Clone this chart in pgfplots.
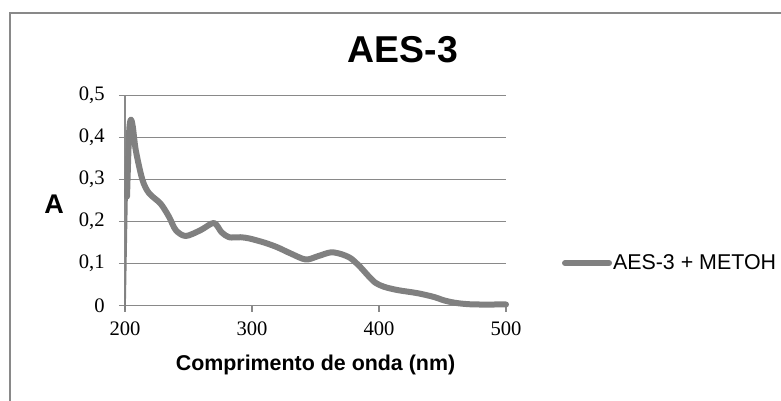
\documentclass[border=0pt]{standalone}
\usepackage{fontspec}
\setmainfont{Liberation Serif}
\newfontfamily\arial{Liberation Sans}
\usepackage{pgfplots}
\pgfplotsset{compat=1.18}
\definecolor{curve}{HTML}{808080}
\definecolor{gridc}{HTML}{898989}
\begin{document}
\begin{tikzpicture}
\useasboundingbox (-62.5pt,-47.65pt) rectangle (328pt,152.85pt);
\draw[gridc, line width=1pt] (-57.25pt,-48pt) -- (-57.25pt,146.35pt) -- (329pt,146.35pt);
\begin{axis}[
  at={(0pt,0pt)}, anchor=origin,
  scale only axis, width=190.5pt, height=105pt,
  xmin=200, xmax=500, ymin=0, ymax=0.5,
  axis x line*=bottom, axis y line*=left,
  axis line style={gridc, line width=0.7pt},
  xtick={200,300,400,500}, ytick={0,0.1,0.2,0.3,0.4,0.5},
  tick align=outside, major tick length=3pt,
  tick style={gridc, line width=0.7pt},
  ymajorgrids, grid style={gridc, line width=0.7pt},
  /pgf/number format/assume math mode=true,
  /pgf/number format/use comma,
  /pgf/number format/fixed,
  /pgf/number format/precision=1,
  tick label style={font=\fontsize{10.3}{12}\selectfont},
  yticklabel style={inner sep=0pt, anchor=east, xshift=-7pt},
  xticklabel style={inner sep=0pt, anchor=north, yshift=-5pt},
  xlabel={Comprimento de onda (nm)},
  xlabel style={at={(axis description cs:0.5,-0.283)}, anchor=center, inner sep=0pt, font=\arial\bfseries\fontsize{10.7}{13}\selectfont},
  ylabel={A},
  ylabel style={rotate=-90, at={(axis description cs:-0.186,0.484)}, anchor=center, inner sep=0pt, font=\arial\bfseries\fontsize{13.5}{16}\selectfont},
  legend style={at={(axis description cs:1.146,0.203)}, anchor=west, draw=none, fill=none, inner sep=0pt,
    font=\arial\fontsize{10.7}{13}\selectfont, nodes={inner sep=0.5pt}},
  legend image code/.code={\draw[#1] (0pt,0pt) -- (22pt,0pt);},
  clip=false,
]
\addplot[curve, line width=0.8pt, forget plot] coordinates {(200,-0.01) (201.6,0.26)};
\addplot[curve, line width=3pt, line join=round, line cap=round, smooth, tension=0.5] coordinates {
(201.6,0.26) (203.2,0.41) (204.6,0.443) (206.2,0.425) (208.5,0.37) (213.7,0.30)
(218.9,0.268) (228,0.243) (234.6,0.212) (240,0.180) (247.8,0.166) (259.6,0.180)
(270,0.197) (276,0.175) (282,0.163) (291,0.163) (298,0.160) (310,0.150)
(320,0.139) (330,0.125) (342.3,0.110) (352,0.118) (362,0.127) (370,0.123)
(377.7,0.113) (385,0.093) (391,0.073) (397,0.055) (404,0.045) (415,0.037)
(430,0.030) (443,0.021) (452,0.012) (462,0.006) (475,0.003) (500,0.003)};
\addlegendentry{AES-3 + METOH}
\node[inner sep=0pt, font=\arial\bfseries\fontsize{18.7}{22}\selectfont] at (axis description cs:0.7297,1.2176) {AES-3};
\end{axis}
\end{tikzpicture}
\end{document}
